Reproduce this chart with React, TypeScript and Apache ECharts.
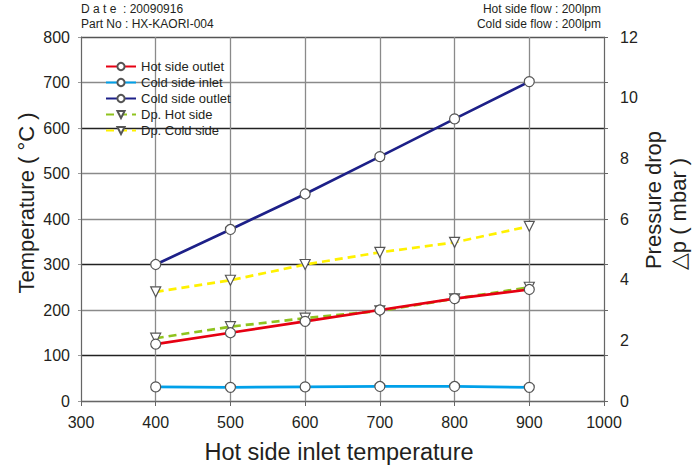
import React, { useEffect, useRef } from "react";
import * as echarts from "echarts";

const xValues = [400, 500, 600, 700, 800, 900];
const hotOutlet = [125, 150, 175, 200, 225, 245];
const coldInlet = [31, 30, 31, 32, 32, 30];
const coldOutlet = [300, 377, 455, 537, 620, 702];
const dpHot = [2.07, 2.45, 2.73, 2.97, 3.37, 3.75];
const dpCold = [3.6, 3.98, 4.5, 4.9, 5.23, 5.76];

const seriesNames = ["Hot side outlet", "Cold side inlet", "Cold side outlet", "Dp. Hot side", "Dp. Cold side"];
const seriesColors = ["#e60012", "#00a0e9", "#1d2088", "#8fc31f", "#fff100"];

const FONT = "'Liberation Sans', Arial, Helvetica, sans-serif";
const TXT = "#231f20";

export default function App() {
  const ref = useRef<HTMLDivElement>(null);
  useEffect(() => {
    if (!ref.current) return;
    const chart = echarts.init(ref.current, null, { renderer: "svg" });
    const pair = (arr: number[]) => xValues.map((x, i) => [x, arr[i]]);
    const circleSeries = (name: string, color: string, data: number[]) => ({
      name,
      type: "line",
      data: pair(data),
      yAxisIndex: 0,
      symbol: "circle",
      symbolSize: 10,
      itemStyle: { color: "#fff", borderColor: "#555", borderWidth: 1.2 },
      lineStyle: { color, width: 2.7 },
      color,
      z: 3,
    });
    const triSeries = (name: string, color: string, data: number[]) => ({
      name,
      type: "line",
      data: pair(data),
      yAxisIndex: 1,
      symbol: "triangle",
      symbolRotate: 180,
      symbolSize: 10,
      itemStyle: { color: "#fff", borderColor: "#555", borderWidth: 1.2 },
      lineStyle: { color, width: 2.7, type: [8, 5] },
      color,
      z: 2,
    });
    chart.setOption({
      animation: false,
      textStyle: { fontFamily: FONT },
      grid: { left: 81, right: 92, top: 37, bottom: 66 },
      legend: {
        orient: "vertical",
        left: 100,
        top: 55,
        itemWidth: 30,
        itemHeight: 9,
        itemGap: 3,
        textStyle: { fontSize: 13, color: TXT, fontFamily: FONT },
        data: seriesNames,
      },
      xAxis: {
        type: "value",
        min: 300,
        max: 1000,
        interval: 100,
        axisLine: { show: true, lineStyle: { color: "#666", width: 1 } },
        axisTick: { show: true, length: 5, lineStyle: { color: "#666" } },
        axisLabel: { fontSize: 16, color: TXT, margin: 13, fontFamily: FONT, formatter: (v: number) => String(v) },
        splitLine: { show: true, lineStyle: { color: "#8a8a8a", width: 1.3 } },
      },
      yAxis: [
        {
          type: "value",
          min: 0,
          max: 800,
          interval: 100,
          position: "left",
          axisLine: { show: true, lineStyle: { color: "#666", width: 1 } },
          axisTick: { show: true, length: 3, lineStyle: { color: "#999" } },
          axisLabel: { fontSize: 16, color: TXT, margin: 11, fontFamily: FONT },
          splitLine: {
            show: true,
            lineStyle: {
              color: ["#555", "#222", "#8a8a8a", "#222", "#8a8a8a", "#8a8a8a", "#222", "#8a8a8a", "#555"],
              width: 1.3,
            },
          },
        },
        {
          type: "value",
          min: 0,
          max: 12,
          interval: 2,
          position: "right",
          axisLine: { show: true, lineStyle: { color: "#666", width: 1 } },
          axisTick: { show: false },
          axisLabel: { fontSize: 16, color: TXT, margin: 16, fontFamily: FONT },
          splitLine: { show: false },
        },
        {
          type: "value",
          min: 0,
          max: 800,
          interval: 100,
          position: "right",
          axisLine: { show: false },
          axisTick: { show: true, length: 4, lineStyle: { color: "#666" } },
          axisLabel: { show: false },
          splitLine: { show: false },
        },
      ],
      graphic: [
        { type: "text", left: 81, top: 3, style: { text: "D a t e  : 20090916", font: `12px ${FONT}`, fill: TXT } },
        { type: "text", left: 81, top: 18, style: { text: "Part No : HX-KAORI-004", font: `12px ${FONT}`, fill: TXT } },
        { type: "text", right: 95, top: 3, style: { text: "Hot side flow : 200lpm", font: `12px ${FONT}`, fill: TXT } },
        { type: "text", right: 95, top: 18, style: { text: "Cold side flow : 200lpm", font: `12px ${FONT}`, fill: TXT } },
        {
          type: "text",
          x: 26,
          y: 203,
          rotation: Math.PI / 2,
          style: { text: "Temperature ( °C )", font: `22px ${FONT}`, fill: TXT, align: "center", verticalAlign: "middle" },
        },
        {
          type: "text",
          x: 339,
          y: 452,
          style: { text: "Hot side inlet temperature", font: `23.5px ${FONT}`, fill: TXT, align: "center", verticalAlign: "middle" },
        },
        {
          type: "text",
          x: 653,
          y: 200,
          rotation: Math.PI / 2,
          style: { text: "Pressure drop", font: `22px ${FONT}`, fill: TXT, align: "center", verticalAlign: "middle" },
        },
        {
          type: "text",
          x: 678,
          y: 214,
          rotation: Math.PI / 2,
          style: { text: "△p ( mbar )", font: `22px ${FONT}`, fill: TXT, align: "center", verticalAlign: "middle" },
        },
      ],
      series: [
        circleSeries(seriesNames[0], seriesColors[0], hotOutlet),
        circleSeries(seriesNames[1], seriesColors[1], coldInlet),
        circleSeries(seriesNames[2], seriesColors[2], coldOutlet),
        triSeries(seriesNames[3], seriesColors[3], dpHot),
        triSeries(seriesNames[4], seriesColors[4], dpCold),
      ],
    });
    return () => chart.dispose();
  }, []);
  return <div ref={ref} style={{ width: 696, height: 467, position: "absolute", left: 0, top: 0 }} />;
}
